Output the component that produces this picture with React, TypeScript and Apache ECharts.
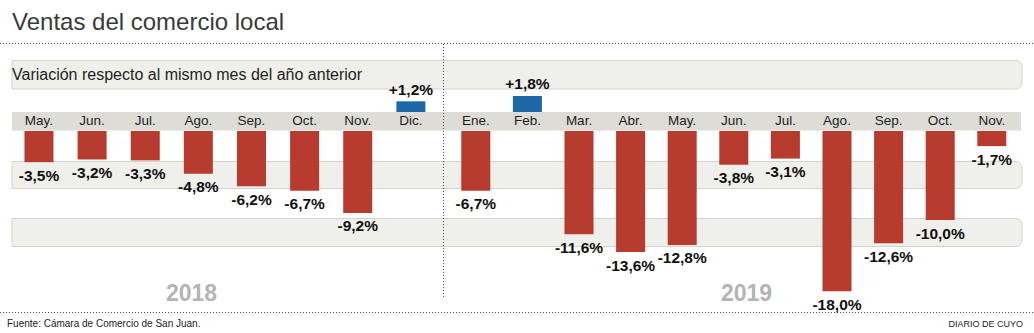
import React, { useEffect, useRef } from "react";
import * as echarts from "echarts";

const months2018 = ["May.", "Jun.", "Jul.", "Ago.", "Sep.", "Oct.", "Nov.", "Dic."];
const values2018 = [-3.5, -3.2, -3.3, -4.8, -6.2, -6.7, -9.2, 1.2];
const months2019 = ["Ene.", "Feb.", "Mar.", "Abr.", "May.", "Jun.", "Jul.", "Ago.", "Sep.", "Oct.", "Nov."];
const values2019 = [-6.7, 1.8, -11.6, -13.6, -12.8, -3.8, -3.1, -18.0, -12.6, -10.0, -1.7];
const yearLabels = ["2018", "2019"];

const TITLE = "Ventas del comercio local";
const SUBTITLE = "Variación respecto al mismo mes del año anterior";
const SOURCE = "Fuente: Cámara de Comercio de San Juan.";
const BRAND = "DIARIO DE CUYO";

const FONT = "'Liberation Sans', Arial, Helvetica, sans-serif";
const RED = "#b73b2f";
const BLUE = "#1c67a6";

const fmt = (v: number) => (v > 0 ? "+" : "") + v.toFixed(1).replace(".", ",") + "%";

export default function App() {
  const ref = useRef<HTMLDivElement>(null);
  useEffect(() => {
    document.body.style.margin = "0";
    const chart = echarts.init(ref.current!, null, { renderer: "svg" });

    const pxPerUnit = 8.9;
    const negMin = -20;
    const posMax = 5;
    const negTop = 131;
    const posBottom = 112;
    const negH = -negMin * pxPerUnit;
    const posH = posMax * pxPerUnit;

    const y2018 = { left: 12.4, width: 8 * 53.13 };
    const y2019 = { left: 450, width: 11 * 51.6 };

    const grids = [
      { left: y2018.left, width: y2018.width, top: posBottom - posH, height: posH },
      { left: y2018.left, width: y2018.width, top: negTop, height: negH },
      { left: y2019.left, width: y2019.width, top: posBottom - posH, height: posH },
      { left: y2019.left, width: y2019.width, top: negTop, height: negH },
    ].map((g) => ({ ...g, outerBoundsMode: "none", containLabel: false }));

    const mkX = (gridIndex: number, data: string[], showLabels: boolean) => ({
      type: "category",
      gridIndex,
      data,
      position: "top",
      boundaryGap: true,
      axisLine: { show: false },
      axisTick: { show: false },
      splitLine: { show: false },
      axisLabel: {
        show: showLabels,
        margin: 4,
        fontFamily: FONT,
        fontSize: 13.5,
        color: "#1e1e1e",
        interval: 0,
      },
    });
    const mkY = (gridIndex: number, min: number, max: number) => ({
      type: "value",
      gridIndex,
      min,
      max,
      show: false,
      splitLine: { show: false },
    });

    const labelStyle = {
      show: true,
      fontFamily: FONT,
      fontSize: 15.5,
      fontWeight: "bold",
      color: "#111",
      formatter: (p: any) => fmt(p.value),
    };

    const mkSeries = (xi: number, values: number[], positive: boolean) => ({
      type: "bar",
      xAxisIndex: xi,
      yAxisIndex: xi,
      barWidth: 29,
      z: 5,
      data: values.map((v) =>
        positive
          ? v > 0
            ? { value: v, itemStyle: { color: BLUE } }
            : null
          : v < 0
          ? { value: v, itemStyle: { color: RED } }
          : null
      ),
      label: { ...labelStyle, position: positive ? "top" : "bottom", distance: positive ? 4 : 5 },
    });

    const dotted = { stroke: "#4a4a4a", lineWidth: 1, lineDash: [1, 2] };
    const bandFill = "#efefeb";
    const bandStroke = "#d4d4cf";

    chart.setOption({
      animation: false,
      backgroundColor: "#ffffff",
      grid: grids,
      xAxis: [
        mkX(0, months2018, false),
        mkX(1, months2018, true),
        mkX(2, months2019, false),
        mkX(3, months2019, true),
      ],
      yAxis: [mkY(0, 0, posMax), mkY(1, negMin, 0), mkY(2, 0, posMax), mkY(3, negMin, 0)],
      series: [
        mkSeries(0, values2018, true),
        mkSeries(1, values2018, false),
        mkSeries(2, values2019, true),
        mkSeries(3, values2019, false),
      ],
      graphic: [
        {
          type: "rect",
          z: 0,
          shape: { x: 12, y: 60.5, width: 1010, height: 28.5, r: [0, 6, 6, 0] },
          style: { fill: bandFill, stroke: bandStroke, lineWidth: 1 },
        },
        {
          type: "rect",
          z: 0,
          shape: { x: 12, y: 112, width: 1009, height: 18.5 },
          style: { fill: "#dddcd6" },
        },
        {
          type: "rect",
          z: 0,
          shape: { x: 12, y: 161.5, width: 1010, height: 27, r: [0, 6, 6, 0] },
          style: { fill: bandFill, stroke: bandStroke, lineWidth: 1 },
        },
        {
          type: "rect",
          z: 0,
          shape: { x: 12, y: 218.5, width: 1010, height: 28, r: [0, 6, 6, 0] },
          style: { fill: bandFill, stroke: bandStroke, lineWidth: 1 },
        },
        { type: "line", z: 1, shape: { x1: 0, y1: 43.5, x2: 1034, y2: 43.5 }, style: dotted },
        { type: "line", z: 1, shape: { x1: 0, y1: 312.5, x2: 1034, y2: 312.5 }, style: dotted },
        { type: "line", z: 1, shape: { x1: 443.5, y1: 44, x2: 443.5, y2: 298 }, style: dotted },
        {
          type: "text",
          z: 3,
          x: 12,
          y: 21,
          style: { text: TITLE, fontFamily: FONT, fontSize: 24, fill: "#3a3a3a", verticalAlign: "middle" },
        },
        {
          type: "text",
          z: 3,
          x: 12,
          y: 74.5,
          style: { text: SUBTITLE, fontFamily: FONT, fontSize: 16, fill: "#1e1e1e", verticalAlign: "middle" },
        },
        {
          type: "text",
          z: 3,
          x: 191.5,
          y: 293,
          style: {
            text: yearLabels[0],
            fontFamily: FONT,
            fontSize: 23,
            fontWeight: "bold",
            fill: "#b4b4b4",
            align: "center",
            verticalAlign: "middle",
          },
        },
        {
          type: "text",
          z: 3,
          x: 746.5,
          y: 293,
          style: {
            text: yearLabels[1],
            fontFamily: FONT,
            fontSize: 23,
            fontWeight: "bold",
            fill: "#b4b4b4",
            align: "center",
            verticalAlign: "middle",
          },
        },
        {
          type: "text",
          z: 3,
          x: 7,
          y: 323.5,
          style: { text: SOURCE, fontFamily: FONT, fontSize: 10, fill: "#222", verticalAlign: "middle" },
        },
        {
          type: "text",
          z: 3,
          x: 1023,
          y: 323.5,
          style: {
            text: BRAND,
            fontFamily: FONT,
            fontSize: 9,
            fill: "#222",
            align: "right",
            verticalAlign: "middle",
          },
        },
      ],
    });
    return () => chart.dispose();
  }, []);
  return (
    <div
      ref={ref}
      style={{ position: "fixed", left: 0, top: 0, width: 1034, height: 333 }}
    />
  );
}
